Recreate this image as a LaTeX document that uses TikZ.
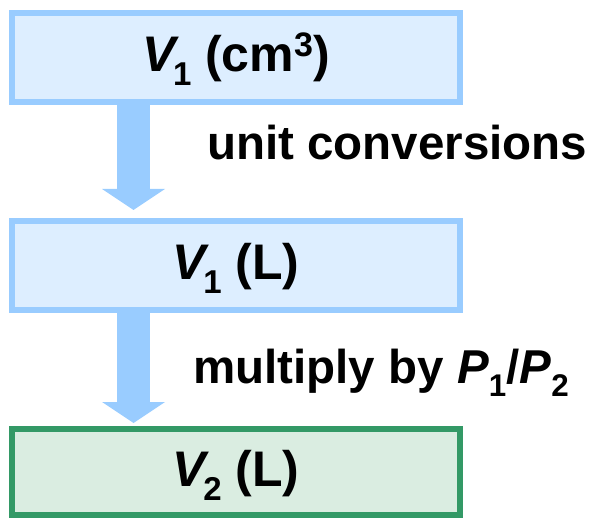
\documentclass[tikz,border=0pt]{standalone}
\usepackage{fontspec}
\setmainfont{Liberation Sans}
\usetikzlibrary{arrows.meta}
\definecolor{bBlue}{HTML}{99CCFF}
\definecolor{bBlueFill}{HTML}{DDEEFF}
\definecolor{bGreen}{HTML}{339966}
\definecolor{bGreenFill}{HTML}{DAEDE1}
\newcommand\lo[2][-0.12em]{\kern#1\raisebox{-0.28em}{\scalebox{0.66}{#2}}}
\newcommand\hi[1]{\raisebox{0.3em}{\scalebox{0.68}{#1}}}

\begin{document}
\begin{tikzpicture}[x=1pt, y=-1pt,
    box/.style={draw=bBlue, fill=bBlueFill, line width=6pt, inner sep=0pt,
      minimum width=448pt, minimum height=89pt, text height=40pt, text depth=11pt,
      font=\fontsize{50}{58}\selectfont\bfseries},
    flow/.style={bBlue, line width=33pt,
      -{Triangle[length=21pt, width=63pt, line width=0pt]}},
    note/.style={anchor=base west, inner sep=0pt,
      font=\fontsize{47.5}{56}\selectfont\bfseries}]
  \useasboundingbox (0,0) rectangle (594,518);
  \node[box] (vone) at (236,57.5) {\textit{V}\lo{1} (cm\hi{3})};
  \node[box] (voneL) at (236,265.5) {\textit{V}\lo{1} (L)};
  \node[box, draw=bGreen, fill=bGreenFill, minimum height=86pt] (vtwo) at (236,472)
    {\textit{V}\lo{2} (L)};
  \coordinate (ax) at (133.5,0);
  \draw[flow, shorten >=8pt] (vone.south -| ax) -- (voneL.north -| ax);
  \draw[flow, shorten >=3pt] (voneL.south -| ax) -- (vtwo.north -| ax);
  \node[note] (conv) at (207,160) {unit conversions};
  \node[note] (mult) at (193,383)
    {multiply by \textit{P}\lo[0em]{1}/\textit{P}\lo[0em]{2}};
\end{tikzpicture}
\end{document}
